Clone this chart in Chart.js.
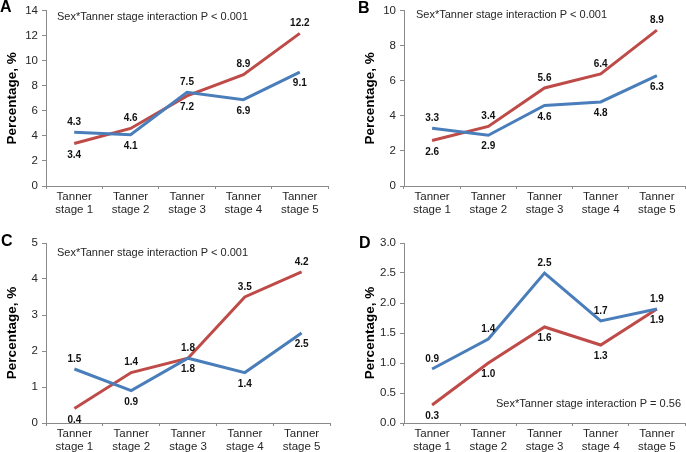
<!DOCTYPE html>
<html>
<head>
<meta charset="utf-8">
<script src="https://cdn.jsdelivr.net/npm/chart.js@4"></script>
<style>
body { margin: 0; background: #fff; }
#wrap { position: relative; width: 686px; height: 452px; }
canvas { position: absolute; }
</style>
</head>
<body>
<div id="wrap">
<canvas id="chartA" width="343" height="226" style="left:0;top:0"></canvas>
<canvas id="chartB" width="343" height="226" style="left:343px;top:0"></canvas>
<canvas id="chartC" width="343" height="226" style="left:0;top:226px"></canvas>
<canvas id="chartD" width="343" height="226" style="left:343px;top:226px"></canvas>
</div>
<script>
// categories (x axis)
let stages = [['Tanner', 'stage 1'], ['Tanner', 'stage 2'], ['Tanner', 'stage 3'], ['Tanner', 'stage 4'], ['Tanner', 'stage 5']];

// panel A
let blueA = [4.3, 4.1, 7.5, 6.9, 9.1];
let redA = [3.4, 4.6, 7.2, 8.9, 12.2];
// panel B
let blueB = [3.3, 2.9, 4.6, 4.8, 6.3];
let redB = [2.6, 3.4, 5.6, 6.4, 8.9];
// panel C
let blueC = [1.5, 0.9, 1.8, 1.4, 2.5];
let redC = [0.4, 1.4, 1.8, 3.5, 4.2];
// panel D
let blueD = [0.9, 1.4, 2.5, 1.7, 1.9];
let redD = [0.3, 1.0, 1.6, 1.3, 1.9];

// y axis ranges / tick steps
let yMaxes = [14, 10, 5, 3];
let ySteps = [2, 2, 1, 0.5];

let notes = ['Sex*Tanner stage interaction P < 0.001', 'Sex*Tanner stage interaction P < 0.001',
	'Sex*Tanner stage interaction P < 0.001', 'Sex*Tanner stage interaction P = 0.56'];
let letters = ['A', 'B', 'C', 'D'];

Chart.defaults.font.family = '"Liberation Sans", Arial, sans-serif';

const axisGray = '#8a8a8a';
const textCol = '#262626';

// draws the value labels, the panel letter and the P-value note
const labelPlugin = {
	id: 'panelText',
	afterDatasetsDraw(chart, args, opts) {
		let ctx = chart.ctx;
		let ds = chart.data.datasets;
		ctx.save();
		ctx.font = 'bold 10px "Liberation Sans", Arial, sans-serif';
		ctx.fillStyle = '#111';
		ctx.textAlign = 'center';
		ctx.textBaseline = 'middle';
		for (let d = 0; d < 2; d++) {
			let meta = chart.getDatasetMeta(d);
			ds[d].data.forEach((v, i) => {
				let other = ds[1 - d].data[i];
				let up = v > other || (v === other && d === opts.tieTop);
				let pt = meta.data[i];
				ctx.fillText(v.toFixed(1), pt.x, up ? pt.y - 10 : pt.y + 11.5);
			});
		}

		// panel letter
		ctx.font = 'bold 16px "Liberation Sans", Arial, sans-serif';
		ctx.fillStyle = '#000';
		ctx.textAlign = 'left';
		ctx.textBaseline = 'alphabetic';
		ctx.fillText(opts.letter, opts.letterX, opts.letterY);

		// note
		ctx.font = '11px "Liberation Sans", Arial, sans-serif';
		ctx.fillStyle = textCol;
		ctx.textAlign = opts.noteAlign;
		ctx.textBaseline = 'middle';
		ctx.fillText(opts.note, opts.noteX, opts.noteY);
		ctx.restore();
	}
};

function makeChart(id, blue, red, yMax, step, decimals, panel) {
	return new Chart(document.getElementById(id), {
		type: 'line',
		data: {
			labels: stages,
			datasets: [
				{ data: blue, borderColor: '#4a7ebb', borderWidth: 3, pointRadius: 0, tension: 0, fill: false },
				{ data: red, borderColor: '#be4b48', borderWidth: 3, pointRadius: 0, tension: 0, fill: false }
			]
		},
		options: {
			responsive: false,
			animation: false,
			events: [],
			layout: { padding: panel.pad },
			plugins: {
				legend: { display: false },
				tooltip: { enabled: false },
				panelText: panel.text
			},
			scales: {
				x: {
					offset: true,
					grid: { offset: true, drawOnChartArea: false, tickLength: 3, color: axisGray },
					border: { color: axisGray },
					ticks: { color: textCol, font: { size: 11.5, lineHeight: 1.1 }, padding: 2, maxRotation: 0, autoSkip: false },
					afterFit: s => { s.height = panel.xh; }
				},
				y: {
					min: 0,
					max: yMax,
					grid: { drawOnChartArea: false, tickLength: 4, color: axisGray },
					border: { color: axisGray },
					ticks: { stepSize: step, color: textCol, font: { size: 11.5 }, padding: 4,
						callback: v => v.toFixed(decimals) },
					title: { display: true, text: 'Percentage, %', color: '#000',
						font: { size: 13.5, weight: 'bold' }, padding: { top: 4, bottom: 0 } },
					afterFit: s => { s.width = 46; }
				}
			}
		},
		plugins: [labelPlugin]
	});
}

window.onload = function(){
	makeChart('chartA', blueA, redA, yMaxes[0], ySteps[0], 0, {
		pad: { left: 0, top: 7, right: 15, bottom: 0 }, xh: 40,
		text: { tieTop: 1, letter: letters[0], letterX: 0, letterY: 12,
			note: notes[0], noteX: 57, noteY: 17, noteAlign: 'left' }
	});
	makeChart('chartB', blueB, redB, yMaxes[1], ySteps[1], 0, {
		pad: { left: 15, top: 7, right: 1, bottom: 0 }, xh: 40,
		text: { tieTop: 1, letter: letters[1], letterX: 15, letterY: 13,
			note: notes[1], noteX: 73, noteY: 15, noteAlign: 'left' }
	});
	makeChart('chartC', blueC, redC, yMaxes[2], ySteps[2], 0, {
		pad: { left: 0, top: 17, right: 13, bottom: 0 }, xh: 29,
		text: { tieTop: 1, letter: letters[2], letterX: 1, letterY: 20,
			note: notes[2], noteX: 57, noteY: 27, noteAlign: 'left' }
	});
	makeChart('chartD', blueD, redD, yMaxes[3], ySteps[3], 1, {
		pad: { left: 15, top: 17, right: 1, bottom: 0 }, xh: 29,
		text: { tieTop: 0, letter: letters[3], letterX: 16, letterY: 22,
			note: notes[3], noteX: 338, noteY: 178, noteAlign: 'right' }
	});
}
</script>
</body>
</html>
